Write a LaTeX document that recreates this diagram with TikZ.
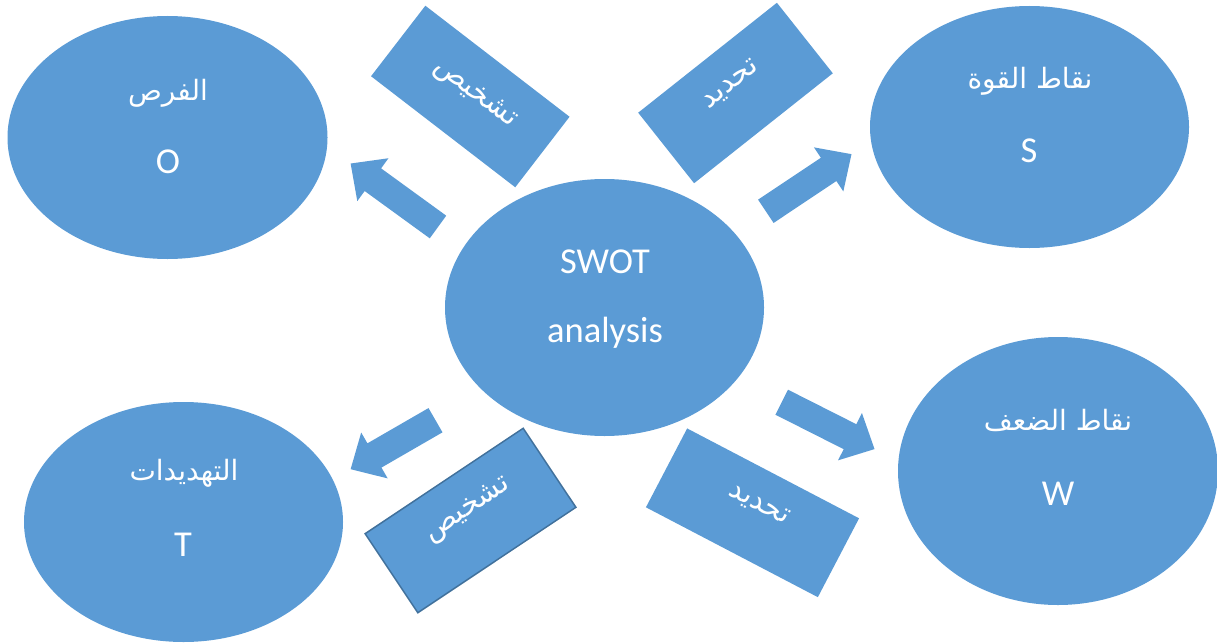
\documentclass[tikz,border=0pt]{standalone}
\usepackage{fontspec}
\setmainfont{Carlito}
\newfontfamily\arabicfont[Script=Arabic]{DejaVu Sans}
\TeXXeTstate=1
\usetikzlibrary{shapes.geometric}
\definecolor{swotblue}{HTML}{5B9BD5}
\definecolor{swotedge}{HTML}{41719C}

\tikzset{
  bubble/.style={ellipse, fill=swotblue, inner sep=0pt},
  tag/.style={rectangle, fill=swotblue, inner sep=0pt},
  ar/.style={text=white, font=\arabicfont\fontsize{28}{32}\selectfont, inner sep=0pt},
  tagtext/.style={text=white, font=\arabicfont\fontsize{29}{33}\selectfont, inner sep=0pt},
  la/.style={text=white, font=\fontsize{36.5}{40}\selectfont, inner sep=0pt},
  pics/blockarrow/.style={code={
    \fill[swotblue] (0,-14) -- ({#1-27.5},-14) -- ({#1-27.5},-26.5) -- (#1,0)
      -- ({#1-27.5},26.5) -- ({#1-27.5},14) -- (0,14) -- cycle;}}
}

\begin{document}
\begin{tikzpicture}[x=1pt,y=-1pt]
\useasboundingbox (0,0) rectangle (1217,642);

% the four quadrants and the centre
\node[bubble, minimum width=320pt, minimum height=243pt] (opp) at (167.5,137.5) {};
\node[bubble, minimum width=319pt, minimum height=242pt] (str) at (1029.5,127) {};
\node[bubble, minimum width=319pt, minimum height=257pt] (swot) at (604.5,307.5) {};
\node[bubble, minimum width=319pt, minimum height=240pt] (thr) at (183.5,522) {};
\node[bubble, minimum width=320pt, minimum height=268pt] (wk) at (1058,471) {};

% labels inside the ellipses
\node[ar, anchor=base] (oppAr) at (168,100) {\beginR الفرص\endR};
\node[la, anchor=base] (oppLa) at (168,173) {O};
\node[ar, anchor=base] (strAr) at (1030,88) {\beginR نقاط القوة\endR};
\node[la, anchor=base] (strLa) at (1029,162) {S};
\node[la, anchor=base] (swotA) at (605,273) {SWOT};
\node[la, anchor=base] (swotB) at (605,342) {analysis};
\node[ar, anchor=base] (thrAr) at (184,480) {\beginR التهديدات\endR};
\node[la, anchor=base] (thrLa) at (183,556) {T};
\node[ar, anchor=base] (wkAr) at (1058,430) {\beginR نقاط الضعف\endR};
\node[la, anchor=base] (wkLa) at (1058,505) {W};

% tilted tags
\node[tag, minimum width=182pt, minimum height=89pt, rotate=-37.6] (tagO) at (470.3,96.5) {};
\node[tagtext, rotate=-37.6] (tagOt) at (475,94) {\beginR تشخيص\endR};
\node[tag, minimum width=177pt, minimum height=90pt, rotate=38.4] (tagS) at (735.5,93) {};
\node[tagtext, rotate=38.4] (tagSt) at (731,85) {\beginR تحديد\endR};
\node[tag, draw=swotedge, line width=1.5pt, minimum width=190pt, minimum height=95pt, rotate=33.7] (tagT) at (470.5,520.5) {};
\node[tagtext, rotate=33.7] (tagTt) at (468,510) {\beginR تشخيص\endR};
\node[tag, minimum width=194pt, minimum height=89pt, rotate=-27.6] (tagW) at (752.5,512.8) {};
\node[tagtext, rotate=-27.6] (tagWt) at (759,505) {\beginR تحديد\endR};

% block arrows pointing outwards
\pic[rotate=144] (arO) at (438,227) {blockarrow=108};
\pic[rotate=33.7] (arS) at (765.8,211.3) {blockarrow=103};
\pic[rotate=210] (arT) at (435.5,420.2) {blockarrow=98};
\pic[rotate=-26.8] (arW) at (781.7,402.2) {blockarrow=104};
\end{tikzpicture}
\end{document}
